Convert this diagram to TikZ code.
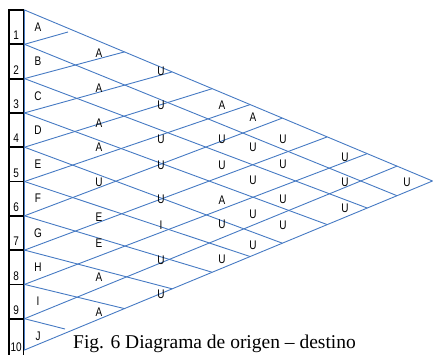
\documentclass[tikz,border=0pt]{standalone}
\usepackage{fontspec}
\setmainfont{Liberation Serif}
\newfontfamily\estrecha[FakeStretch=0.8]{Liberation Sans}
\usepackage{tikz}
\usetikzlibrary{calc}
\definecolor{azul}{RGB}{70,122,195}
\tikzset{
  caja/.style={draw=black,line width=1.8pt,outer sep=0pt,minimum width=14.5pt,anchor=north west},
  malla/.style={draw=azul,line width=0.9pt},
  letra/.style={inner sep=0pt,font=\estrecha\fontsize{12.5}{13}\selectfont},
  num/.style={letra,anchor=base}
}
\begin{document}
\begin{tikzpicture}[x=1pt,y=-1pt]
\useasboundingbox (0,0) rectangle (433,354);
% puntos de partida y vertice
\foreach \k in {0,...,9} \coordinate (P\k) at (24.5,{10+34.3*\k});
\coordinate (P10) at (24.5,350);
\coordinate (V) at (432.5,181);
% triangulo
\draw[malla] (P0)--(V)--(P10)--cycle;
% rectas hacia arriba (al borde superior) y hacia abajo (al borde inferior)
\foreach \k/\t in {2/0.245,3/0.362,4/0.46,5/0.553,6/0.632,7/0.742,8/0.84,9/0.913}{
  \coordinate (T\k) at ($(P0)!\t!(V)$);
  \draw[malla] (P\k)--(T\k);
}
\foreach \k/\t in {8/0.245,7/0.362,6/0.46,5/0.553,4/0.632,3/0.742,2/0.84,1/0.913}{
  \coordinate (B\k) at ($(P10)!\t!(V)$);
  \draw[malla] (P\k)--(B\k);
}
\coordinate (T1) at (68,32); \coordinate (B9) at (65,329);
\draw[malla] (P1)--(T1); \draw[malla] (P9)--(B9);
% columna de cajas numeradas
\foreach \k in {1,...,9}{
  \node[caja,minimum height=34.3pt] (n\k) at (9,{10+34.3*(\k-1)}) {};
  \node[num] (k\k) at ([yshift=4.4pt]n\k.south) {\k};
}
\node[caja,minimum height=38.8pt] (n10) at (9,318.7) {};
\node[num] (k10) at ([yshift=6.5pt]n10.south) {10};
% actividades
\foreach \l [count=\i] in {A,...,J} \node[letra] (act\i) at (38,{10+34.3*(\i-0.5)}) {\l};
% relaciones
\node[letra] (r1) at (99,53) {A}; \node[letra] (r2) at (99,88) {A}; \node[letra] (r3) at (99,123) {A};
\node[letra] (r4) at (99,147) {A}; \node[letra] (r5) at (99,182) {U}; \node[letra] (r6) at (99,217) {E};
\node[letra] (r7) at (99,243) {E}; \node[letra] (r8) at (99,277) {A}; \node[letra] (r9) at (99,312) {A};
\node[letra] (s1) at (161,71) {U}; \node[letra] (s2) at (161,105) {U}; \node[letra] (s3) at (161,139) {U};
\node[letra] (s4) at (161,165) {U}; \node[letra] (s5) at (161,199) {U}; \node[letra] (s6) at (161,225) {I};
\node[letra] (s7) at (161,260) {U}; \node[letra] (s8) at (161,294) {U};
\node[letra] (t1) at (222,105) {A}; \node[letra] (t2) at (222,139) {U}; \node[letra] (t3) at (222,165) {U};
\node[letra] (t4) at (222,200) {A}; \node[letra] (t5) at (222,224) {U}; \node[letra] (t6) at (222,259) {U};
\node[letra] (u1) at (253,117) {A}; \node[letra] (u2) at (253,147) {U}; \node[letra] (u3) at (253,180) {U};
\node[letra] (u4) at (253,214) {U}; \node[letra] (u5) at (253,245) {U};
\node[letra] (v1) at (283,139) {U}; \node[letra] (v2) at (283,164) {U}; \node[letra] (v3) at (283,199) {U};
\node[letra] (v4) at (283,225) {U};
\node[letra] (w1) at (345,157) {U}; \node[letra] (w2) at (345,182) {U}; \node[letra] (w3) at (345,208) {U};
\node[letra] (z1) at (407,182) {U};
% pie de figura
\node[anchor=base west,inner sep=0pt,font=\fontsize{19.5}{22}\selectfont] (pie) at (73,348) {Fig. 6 Diagrama de origen – destino};
\end{tikzpicture}
\end{document}
